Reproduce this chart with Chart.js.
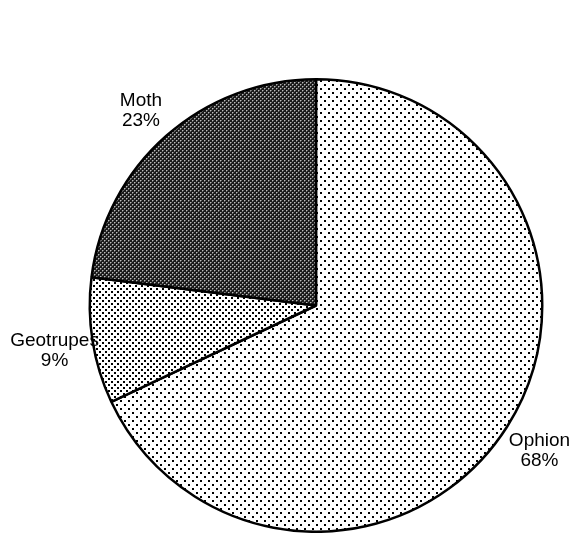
<!DOCTYPE html>
<html><head><meta charset="utf-8">
<script src="https://cdn.jsdelivr.net/npm/chart.js@4/dist/chart.umd.min.js"></script>
<style>html,body{margin:0;padding:0;background:#fff;}#wrap{width:578px;height:533px;}</style>
</head><body><div id="wrap"><canvas id="c" width="578" height="533"></canvas></div>
<script>
const categories = ["Ophion", "Geotrupes", "Moth"];
const values = [68, 9, 23];
const pctLabels = ["68%", "9%", "23%"];

function makePattern(size, bg, dots){
  const c = document.createElement('canvas');
  c.width = size; c.height = size;
  const g = c.getContext('2d');
  g.fillStyle = bg; g.fillRect(0,0,size,size);
  dots.forEach(d => { g.fillStyle = d[3]; g.fillRect(d[0], d[1], d[2], d[2]); });
  return g.createPattern(c, 'repeat');
}
const patOphion = makePattern(8, '#fff', [[0,0,2,'#000'],[4,4,2,'#000']]);
const patGeo = makePattern(6, '#fff', [[0,0,2,'#000'],[3,3,2,'#000']]);
const patMoth = makePattern(4, '#1a1a1a', [[0,0,1,'#bbb'],[2,2,1,'#bbb'],[1,0,1,'#666'],[0,1,1,'#666'],[3,2,1,'#666'],[2,3,1,'#666']]);

const labelPlugin = {
  id: 'outLabels',
  afterDatasetsDraw(chart){
    const ctx = chart.ctx;
    const meta = chart.getDatasetMeta(0);
    ctx.save();
    ctx.fillStyle = '#000';
    ctx.font = '19px "Liberation Sans", Arial, sans-serif';
    ctx.textAlign = 'center';
    ctx.textBaseline = 'alphabetic';
    meta.data.forEach((arc, i) => {
      const p = arc.getProps(['x','y','startAngle','endAngle','outerRadius'], true);
      const mid = (p.startAngle + p.endAngle) / 2;
      const r = p.outerRadius * 1.17;
      const x = p.x + Math.cos(mid) * r;
      const y = p.y + Math.sin(mid) * r;
      ctx.fillText(categories[i], x, y - 1);
      ctx.fillText(pctLabels[i], x, y + 19);
    });
    ctx.restore();
  }
};

new Chart(document.getElementById('c'), {
  type: 'pie',
  data: {
    labels: categories,
    datasets: [{
      data: values,
      backgroundColor: [patOphion, patGeo, patMoth],
      borderColor: '#000',
      borderWidth: 2.5,
      borderAlign: 'center'
    }]
  },
  options: {
    responsive: false,
    animation: false,
    layout: { padding: { top: 78, bottom: 0, left: 88, right: 34 } },
    plugins: { legend: { display: false }, tooltip: { enabled: false } }
  },
  plugins: [labelPlugin]
});
</script>
</body></html>
